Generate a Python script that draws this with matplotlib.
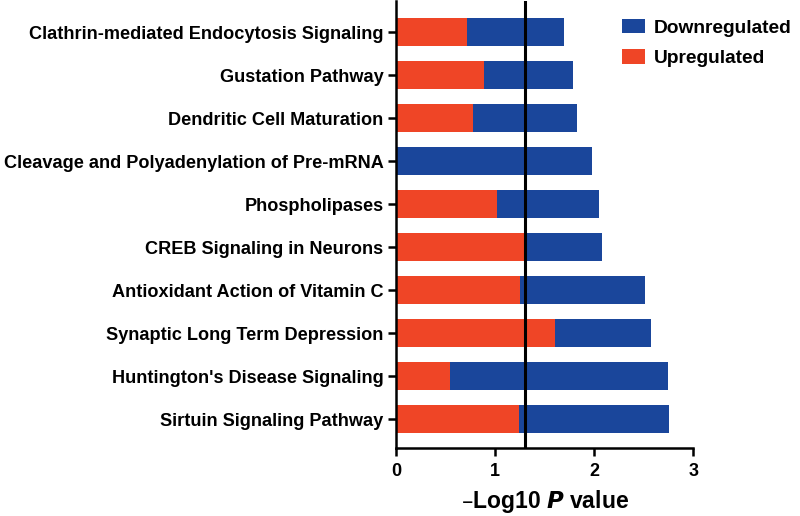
import matplotlib.pyplot as plt
import numpy as np
from matplotlib.patches import Patch

plt.rcParams['font.family'] = ['Liberation Sans', 'DejaVu Sans']
plt.rcParams['font.weight'] = 'bold'

# 数据（从上到下）
pathways = [
    'Clathrin-mediated Endocytosis Signaling',
    'Gustation Pathway',
    'Dendritic Cell Maturation',
    'Cleavage and Polyadenylation of Pre-mRNA',
    'Phospholipases',
    'CREB Signaling in Neurons',
    'Antioxidant Action of Vitamin C',
    'Synaptic Long Term Depression',
    "Huntington's Disease Signaling",
    'Sirtuin Signaling Pathway',
]
upregulated = [0.72, 0.89, 0.78, 0.0, 1.02, 1.30, 1.25, 1.60, 0.54, 1.24]
total = [1.70, 1.79, 1.83, 1.98, 2.05, 2.08, 2.51, 2.57, 2.74, 2.75]
downregulated = [t - u for t, u in zip(total, upregulated)]
threshold = 1.3

red = '#EF4526'
blue = '#1A469B'

fig = plt.figure(figsize=(8, 5.16), dpi=100)
ax = fig.add_axes([0.495, 0.132, 0.3716, 0.866])

y = np.arange(len(pathways))[::-1]
ax.barh(y, upregulated, height=0.65, color=red, edgecolor='none', zorder=2)
ax.barh(y, downregulated, left=upregulated, height=0.65, color=blue, edgecolor='none', zorder=2)

# 阈值线
ax.axvline(threshold, color='black', linewidth=2.2, zorder=3)

ax.set_xlim(0, 3)
ax.set_ylim(-0.66, len(pathways) - 1 + 0.72)
ax.set_xticks([0, 1, 2, 3])
ax.set_xticklabels(['0', '1', '2', '3'], fontsize=13, fontweight='bold')
ax.set_yticks(y)
ax.set_yticklabels(pathways, fontsize=13.05, fontweight='bold')

for s in ['top', 'right']:
    ax.spines[s].set_visible(False)
for s in ['left', 'bottom']:
    ax.spines[s].set_linewidth(1.8)
ax.tick_params(axis='both', direction='out', length=6, width=1.8, pad=3)
ax.tick_params(axis='x', pad=5)

ax.set_xlabel(r'–Log10 $\bfit{P}$ value', fontsize=16.5, fontweight='bold', labelpad=6)

handles = [Patch(facecolor=blue, label='Downregulated'),
           Patch(facecolor=red, label='Upregulated')]
fig.legend(handles=handles, loc='upper left', bbox_to_anchor=(0.768, 0.978),
           frameon=False, fontsize=13.8, handlelength=1.2, handleheight=0.78,
           handletextpad=0.45, labelspacing=0.65, borderaxespad=0)

fig.savefig('out.png', dpi=100)
